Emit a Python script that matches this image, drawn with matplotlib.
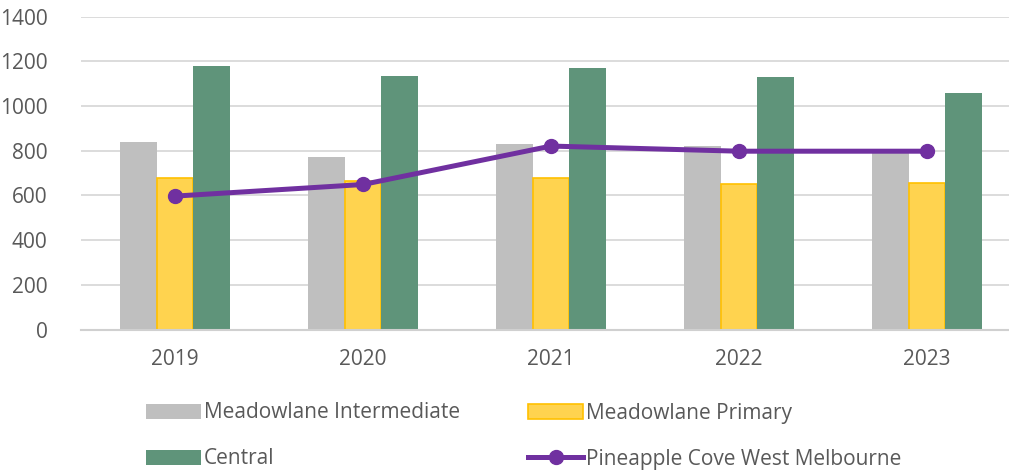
import matplotlib
matplotlib.use('Agg')
import matplotlib.pyplot as plt
import numpy as np

plt.rcParams['font.family'] = ['Open Sans', 'DejaVu Sans']

years = ['2019', '2020', '2021', '2022', '2023']
intermediate = [837, 770, 829, 821, 788]
primary = [680, 665, 676, 649, 655]
central = [1180, 1135, 1170, 1128, 1057]
pineapple = [597, 649, 821, 798, 798]

txt = '#595959'
grey = '#BFBFBF'
yellow = '#FFD34F'
yellow_edge = '#FFC000'
green = '#5F947A'
purple = '#7030A0'

fig = plt.figure(figsize=(10.09, 4.74), dpi=100)
ax = fig.add_axes([81 / 1009, 1 - 329.5 / 474, 940 / 1009, (329.5 - 16.7) / 474])

x = np.arange(len(years))
w = 0.195

b1 = ax.bar(x - w, intermediate, w, color=grey, label='Meadowlane Intermediate', zorder=2)
b2 = ax.bar(x, primary, w, color=yellow, edgecolor=yellow_edge, linewidth=1.2,
            label='Meadowlane Primary', zorder=2)
b3 = ax.bar(x + w, central, w, color=green, label='Central', zorder=2)
l1, = ax.plot(x, pineapple, color=purple, lw=3.6, marker='o', ms=10,
              label='Pineapple Cove West Melbourne', zorder=3)

ax.set_xlim(-0.5, len(years) - 0.5)
ax.set_ylim(0, 1400)
ax.set_yticks(range(0, 1401, 200))
ax.set_xticks(x)
ax.set_xticklabels(years)
ax.grid(axis='y', color='#D9D9D9', lw=1.3, zorder=0)
for s in ['top', 'right', 'left']:
    ax.spines[s].set_visible(False)
ax.spines['bottom'].set_color('#D0D0D0')
ax.spines['bottom'].set_linewidth(1.5)
ax.tick_params(axis='both', length=0, labelsize=15, labelcolor=txt)
ax.tick_params(axis='y', pad=24)
ax.tick_params(axis='x', pad=14)

# legend fills column-wise, so order: col1 = Intermediate, Central; col2 = Primary, Pineapple
handles = [b1, b3, b2, l1]
labels = [h.get_label() for h in handles]
fig.legend(handles, labels,
           loc='center left', bbox_to_anchor=(127 / 1009, 1 - 436 / 474),
           ncol=2, frameon=False, fontsize=15, labelcolor=txt,
           handlelength=2.65, handletextpad=0.15, columnspacing=3.25,
           labelspacing=1.2)

plt.savefig('out.png', dpi=100)
